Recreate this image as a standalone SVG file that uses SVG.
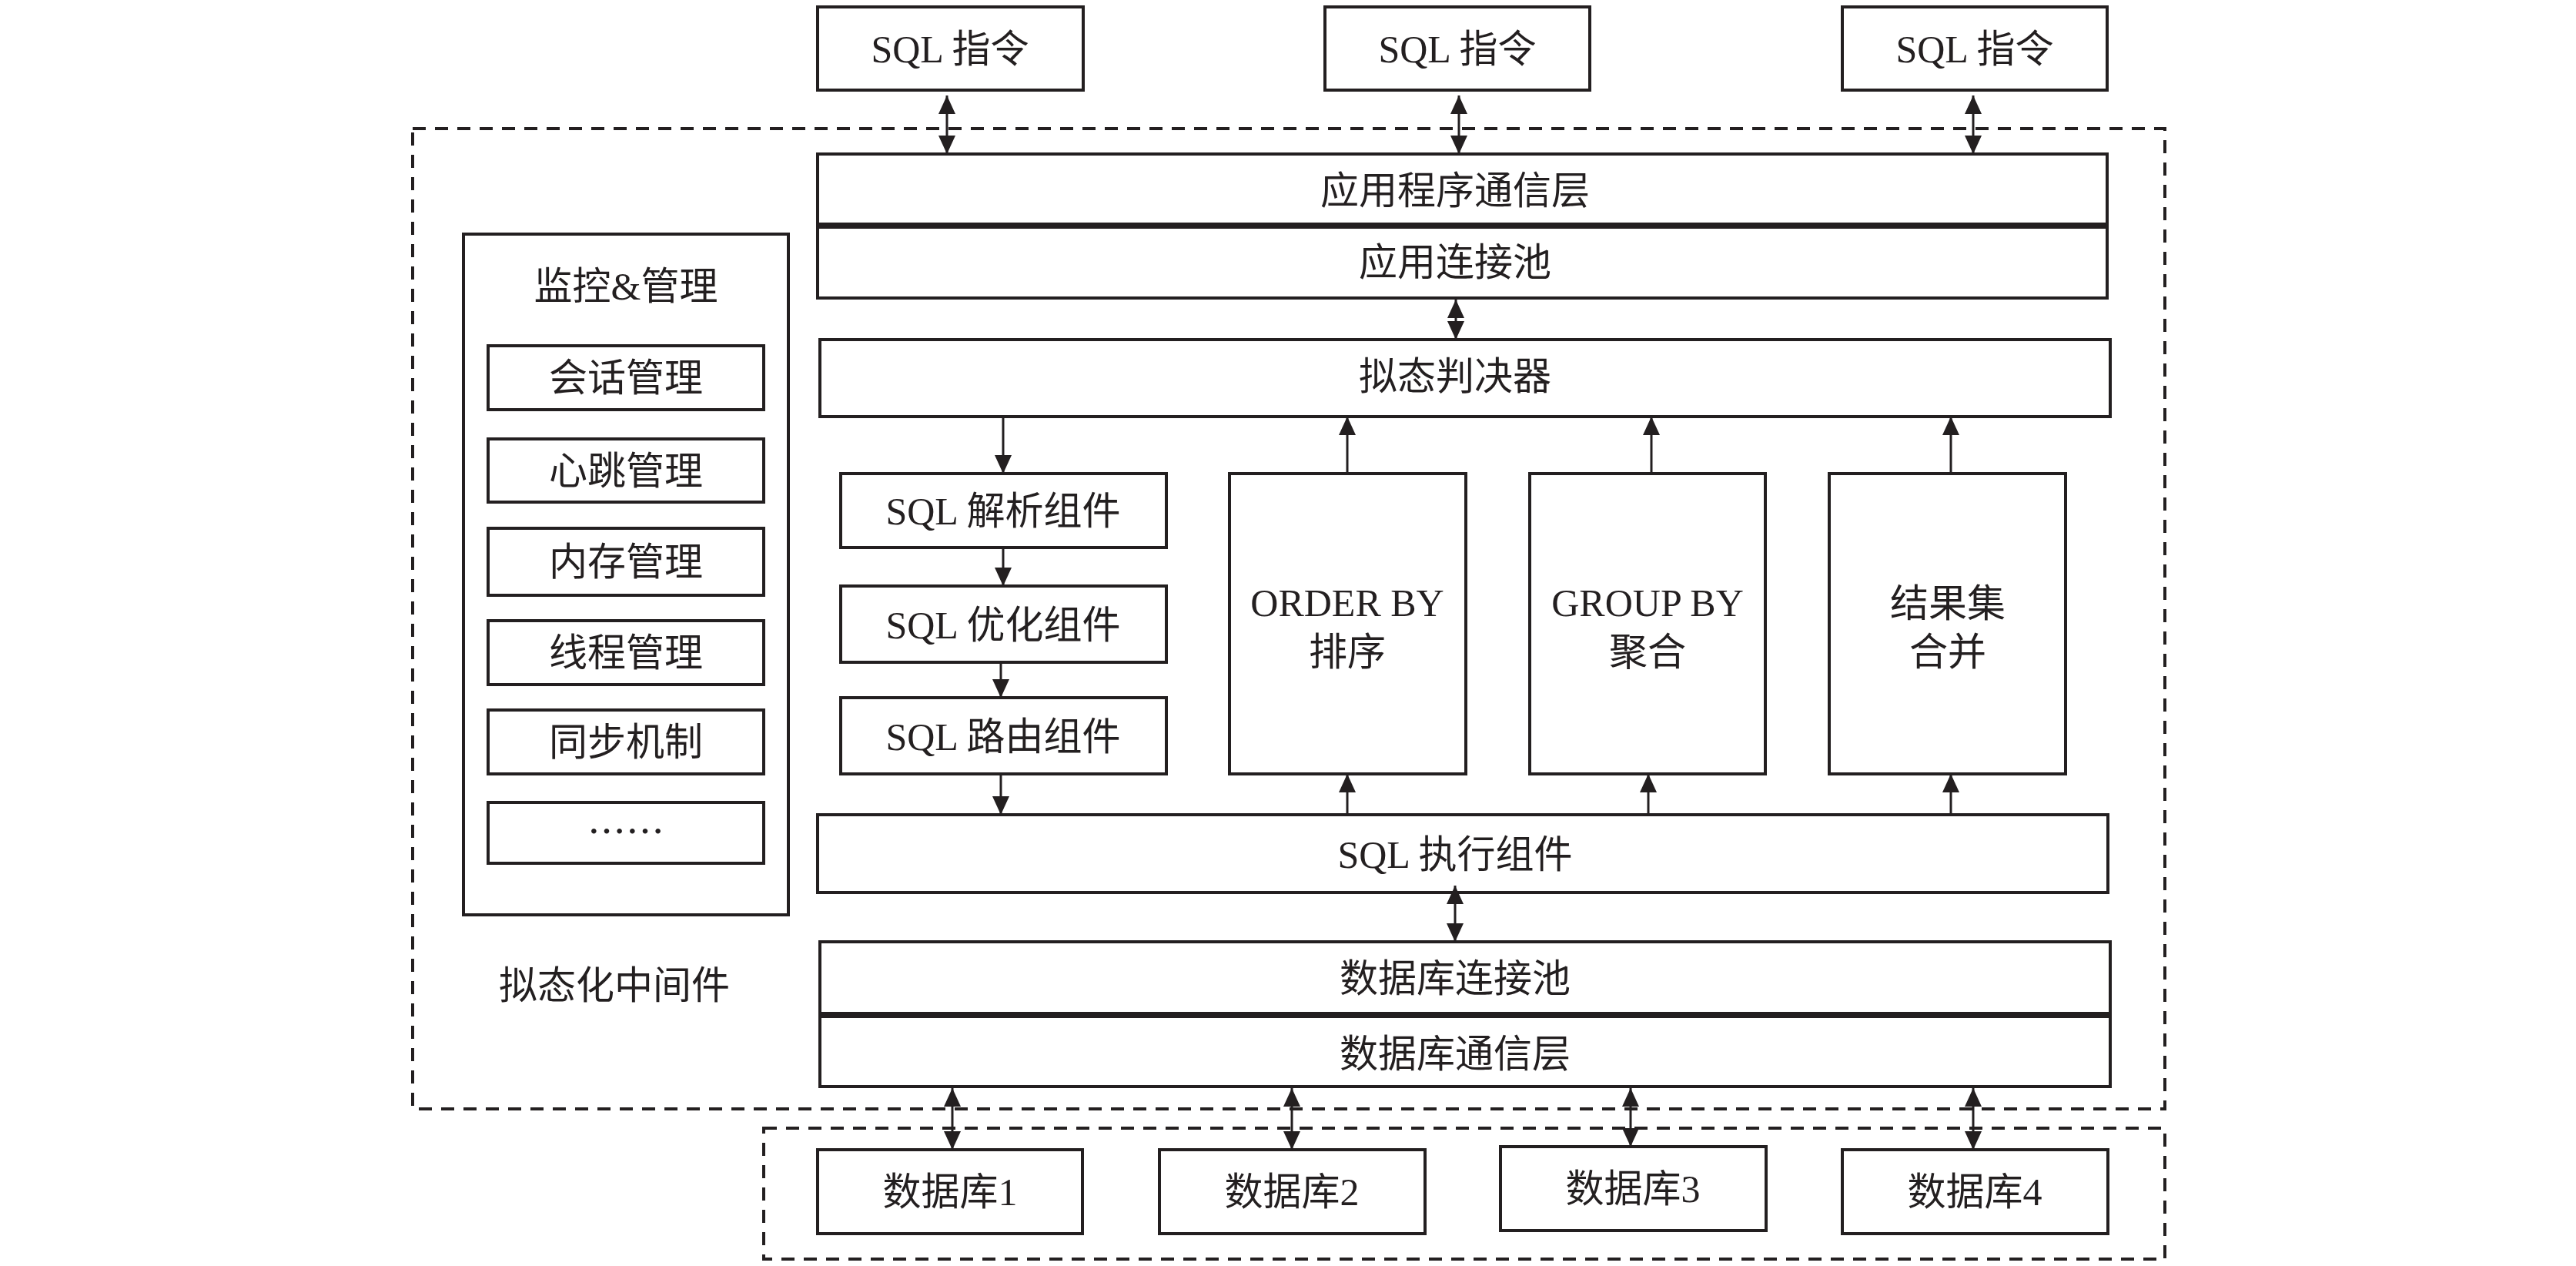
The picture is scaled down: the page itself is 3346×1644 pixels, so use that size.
<svg xmlns="http://www.w3.org/2000/svg" width="3346" height="1644" viewBox="0 0 3346 1644">
<style>
.box{fill:#fff;stroke:#231f20;stroke-width:4}
.dash{fill:none;stroke:#231f20;stroke-width:4;stroke-dasharray:17 12}
.t{font-family:"Liberation Serif","Noto Sans CJK SC",serif;font-size:50px;fill:#231f20;text-anchor:middle}
.c{stroke:#231f20;stroke-width:3;fill:none}
.thick{stroke:#231f20;stroke-width:8}
</style>
<defs>
<marker id="ah" viewBox="0 0 24 22" refX="24" refY="11" markerWidth="24" markerHeight="22" markerUnits="userSpaceOnUse" orient="auto-start-reverse">
<path d="M0,0 L24,11 L0,22 z" fill="#231f20"/>
</marker>
</defs>
<rect width="3346" height="1644" fill="#fff"/>

<g id="middleware-frame">
<rect class="dash" x="536" y="167" width="2276" height="1273"/>
<text class="t" x="798" y="1297">拟态化中间件</text>
</g>
<g id="db-frame">
<rect class="dash" x="992" y="1465" width="1820" height="170"/>
</g>

<g id="sql1"><rect class="box" x="1062" y="9" width="345" height="108"/><text class="t" x="1234" y="81">SQL 指令</text></g>
<g id="sql2"><rect class="box" x="1721" y="9" width="344" height="108"/><text class="t" x="1893" y="81">SQL 指令</text></g>
<g id="sql3"><rect class="box" x="2393" y="9" width="344" height="108"/><text class="t" x="2565" y="81">SQL 指令</text></g>

<g id="app-comm"><rect class="box" x="1062" y="200" width="1675" height="93"/><text class="t" x="1890" y="265">应用程序通信层</text></g>
<g id="app-pool"><rect class="box" x="1062" y="293" width="1675" height="94"/><line class="thick" x1="1062" y1="293" x2="2737" y2="293"/><text class="t" x="1890" y="358">应用连接池</text></g>

<g id="monitor">
<rect class="box" x="602" y="304" width="422" height="884"/>
<text class="t" x="813" y="389">监控&amp;管理</text>
</g>
<g id="m1"><rect class="box" x="634" y="449" width="358" height="83"/><text class="t" x="813" y="508">会话管理</text></g>
<g id="m2"><rect class="box" x="634" y="570" width="358" height="82"/><text class="t" x="813" y="629">心跳管理</text></g>
<g id="m3"><rect class="box" x="634" y="686" width="358" height="87"/><text class="t" x="813" y="747">内存管理</text></g>
<g id="m4"><rect class="box" x="634" y="806" width="358" height="83"/><text class="t" x="813" y="865">线程管理</text></g>
<g id="m5"><rect class="box" x="634" y="922" width="358" height="83"/><text class="t" x="813" y="981">同步机制</text></g>
<g id="m6"><rect class="box" x="634" y="1042" width="358" height="79"/><text class="t" x="813" y="1098" style="font-family:'Noto Sans CJK SC',sans-serif">……</text></g>

<g id="judge"><rect class="box" x="1065" y="441" width="1676" height="100"/><text class="t" x="1890" y="506">拟态判决器</text></g>

<g id="parse"><rect class="box" x="1092" y="615" width="423" height="96"/><text class="t" x="1303" y="681">SQL 解析组件</text></g>
<g id="optimize"><rect class="box" x="1092" y="761" width="423" height="99"/><text class="t" x="1303" y="829">SQL 优化组件</text></g>
<g id="route"><rect class="box" x="1092" y="906" width="423" height="99"/><text class="t" x="1303" y="974">SQL 路由组件</text></g>

<g id="orderby"><rect class="box" x="1597" y="615" width="307" height="390"/><text class="t" x="1750" y="800">ORDER BY</text><text class="t" x="1750" y="864">排序</text></g>
<g id="groupby"><rect class="box" x="1987" y="615" width="306" height="390"/><text class="t" x="2140" y="800">GROUP BY</text><text class="t" x="2140" y="864">聚合</text></g>
<g id="merge"><rect class="box" x="2376" y="615" width="307" height="390"/><text class="t" x="2530" y="801">结果集</text><text class="t" x="2530" y="864">合并</text></g>

<g id="exec"><rect class="box" x="1062" y="1058" width="1676" height="101"/><text class="t" x="1890" y="1127">SQL 执行组件</text></g>

<g id="db-pool"><rect class="box" x="1065" y="1223" width="1676" height="95"/><text class="t" x="1890" y="1288">数据库连接池</text></g>
<g id="db-comm"><rect class="box" x="1065" y="1318" width="1676" height="93"/><line class="thick" x1="1065" y1="1318" x2="2741" y2="1318"/><text class="t" x="1890" y="1386">数据库通信层</text></g>

<g id="db1"><rect class="box" x="1062" y="1493" width="344" height="109"/><text class="t" x="1234" y="1565">数据库1</text></g>
<g id="db2"><rect class="box" x="1506" y="1493" width="345" height="109"/><text class="t" x="1678" y="1565">数据库2</text></g>
<g id="db3"><rect class="box" x="1949" y="1489" width="345" height="109"/><text class="t" x="2121" y="1561">数据库3</text></g>
<g id="db4"><rect class="box" x="2393" y="1493" width="345" height="109"/><text class="t" x="2565" y="1565">数据库4</text></g>

<g id="connectors">
<line class="c" x1="1230" y1="124" x2="1230" y2="200" marker-start="url(#ah)" marker-end="url(#ah)"/>
<line class="c" x1="1895" y1="124" x2="1895" y2="200" marker-start="url(#ah)" marker-end="url(#ah)"/>
<line class="c" x1="2563" y1="124" x2="2563" y2="200" marker-start="url(#ah)" marker-end="url(#ah)"/>
<line class="c" x1="1891" y1="389" x2="1891" y2="441" marker-start="url(#ah)" marker-end="url(#ah)"/>
<line class="c" x1="1303" y1="541" x2="1303" y2="615" marker-end="url(#ah)"/>
<line class="c" x1="1303" y1="711" x2="1303" y2="761" marker-end="url(#ah)"/>
<line class="c" x1="1300" y1="860" x2="1300" y2="906" marker-end="url(#ah)"/>
<line class="c" x1="1300" y1="1005" x2="1300" y2="1058" marker-end="url(#ah)"/>
<line class="c" x1="1750" y1="1058" x2="1750" y2="1005" marker-end="url(#ah)"/>
<line class="c" x1="2141" y1="1058" x2="2141" y2="1005" marker-end="url(#ah)"/>
<line class="c" x1="2534" y1="1058" x2="2534" y2="1005" marker-end="url(#ah)"/>
<line class="c" x1="1750" y1="615" x2="1750" y2="541" marker-end="url(#ah)"/>
<line class="c" x1="2145" y1="615" x2="2145" y2="541" marker-end="url(#ah)"/>
<line class="c" x1="2534" y1="615" x2="2534" y2="541" marker-end="url(#ah)"/>
<line class="c" x1="1890" y1="1150" x2="1890" y2="1223" marker-start="url(#ah)" marker-end="url(#ah)"/>
<line class="c" x1="1237" y1="1413" x2="1237" y2="1493" marker-start="url(#ah)" marker-end="url(#ah)"/>
<line class="c" x1="1678" y1="1413" x2="1678" y2="1493" marker-start="url(#ah)" marker-end="url(#ah)"/>
<line class="c" x1="2118" y1="1413" x2="2118" y2="1489" marker-start="url(#ah)" marker-end="url(#ah)"/>
<line class="c" x1="2563" y1="1413" x2="2563" y2="1493" marker-start="url(#ah)" marker-end="url(#ah)"/>
</g>
</svg>
